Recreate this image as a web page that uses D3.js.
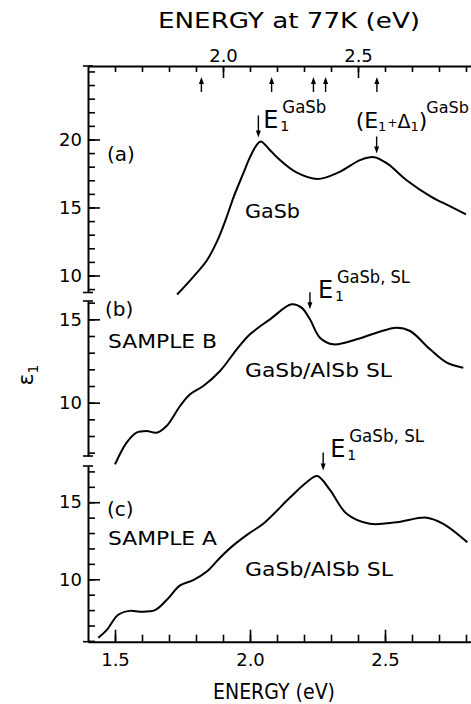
<!DOCTYPE html>
<html>
<head>
<meta charset="utf-8">
<script src="https://cdn.jsdelivr.net/npm/d3@7"></script>
<style>
body { margin: 0; background: #fff; }
text { font-family: "DejaVu Sans", sans-serif; fill: #000; }
</style>
</head>
<body>
<svg id="chart" width="471" height="704"></svg>
<script>
// photon energy (eV, room temperature) and eps1
var gasbE  = [1.73, 1.79, 1.84, 1.88, 1.91, 1.94, 1.975, 2.0, 2.025, 2.04, 2.07, 2.11, 2.17, 2.25, 2.33, 2.41, 2.46, 2.51, 2.58, 2.67, 2.74, 2.80];
var gasbEps = [8.6, 9.9, 11.1, 12.6, 14.1, 15.8, 17.5, 18.7, 19.6, 19.85, 19.3, 18.5, 17.6, 17.1, 17.6, 18.5, 18.7, 18.2, 17.0, 15.8, 15.1, 14.5];

var sampleBE  = [1.5, 1.543, 1.58, 1.617, 1.654, 1.691, 1.741, 1.778, 1.827, 1.889, 1.951, 2.0, 2.074, 2.154, 2.191, 2.222, 2.259, 2.309, 2.395, 2.469, 2.543, 2.593, 2.667, 2.729, 2.79];
var sampleBEps = [6.3, 7.6, 8.2, 8.3, 8.2, 8.6, 9.8, 10.5, 11.0, 11.9, 13.2, 14.1, 15.0, 15.9, 15.7, 15.0, 13.9, 13.5, 13.8, 14.2, 14.5, 14.3, 13.2, 12.4, 12.1];

var sampleAE  = [1.438, 1.469, 1.512, 1.556, 1.593, 1.648, 1.691, 1.741, 1.79, 1.84, 1.889, 1.938, 1.994, 2.049, 2.148, 2.21, 2.249, 2.296, 2.358, 2.444, 2.543, 2.654, 2.716, 2.805];
var sampleAEps = [6.2, 6.7, 7.7, 7.95, 7.9, 8.0, 8.65, 9.6, 9.95, 10.5, 11.4, 12.2, 12.95, 13.6, 15.3, 16.3, 16.7, 15.8, 14.25, 13.6, 13.7, 14.0, 13.6, 12.4];

// tick labels
var bottomTicks = [1.5, 2.0, 2.5];
var topTicks77 = [2.0, 2.5];
var majorA = [10, 15, 20];
var majorB = [10, 15];
var majorC = [10, 15];

// top axis marker arrows (77K energies)
var markers77 = [1.92, 2.18, 2.335, 2.38, 2.57];
var shift77 = 0.1;

// critical point arrows: energy and eps1 at the arrow tip
var cpPanel = ["a", "a", "b", "c"];
var cpE = [2.031, 2.469, 2.222, 2.271];
var cpEps = [20.15, 18.97, 15.6, 17.05];

var svg = d3.select("#chart");

var axisX = 88, bottomY = 641.7, topY = 66;

var x = d3.scaleLinear().domain([1.4, 2.82]).range([axisX, 471.4]);
var x77 = d3.scaleLinear().domain([1.4 + shift77, 2.82 + shift77]).range([axisX, 471.4]);

var panels = {
  a: d3.scaleLinear().domain([8.75, 25.4]).range([292.5, topY]),
  b: d3.scaleLinear().domain([6.8, 16.1]).range([456, 301]),
  c: d3.scaleLinear().domain([5.95, 17.35]).range([bottomY, 466])
};
var majors = {a: majorA, b: majorB, c: majorC};

// bottom axis
var minorX = d3.range(15, 29).map(function(d) { return d / 10; });
svg.append("g")
    .attr("transform", "translate(0," + bottomY + ")")
    .call(d3.axisBottom(x).tickValues(minorX).tickSize(-7).tickSizeOuter(0).tickFormat(""))
    .call(function(g) { g.select(".domain").attr("stroke-width", 2); });
svg.append("g")
    .attr("transform", "translate(0," + bottomY + ")")
    .call(d3.axisBottom(x).tickValues(bottomTicks).tickSize(-12).tickSizeOuter(0)
        .tickPadding(12).tickFormat(d3.format(".1f")))
    .call(function(g) { g.select(".domain").remove(); })
    .selectAll("text").attr("font-size", 18).attr("font-family", "DejaVu Sans");

// top axis
var minor77 = d3.range(16, 30).map(function(d) { return d / 10; });
svg.append("g")
    .attr("transform", "translate(0," + topY + ")")
    .call(d3.axisTop(x77).tickValues(minor77).tickSize(-6).tickSizeOuter(0).tickFormat(""))
    .call(function(g) { g.select(".domain").attr("stroke-width", 2); });
svg.append("g")
    .attr("transform", "translate(0," + topY + ")")
    .call(d3.axisTop(x77).tickValues(topTicks77).tickSize(-12).tickSizeOuter(0)
        .tickPadding(4).tickFormat(d3.format(".1f")))
    .call(function(g) { g.select(".domain").remove(); })
    .selectAll("text").attr("font-size", 18).attr("font-family", "DejaVu Sans");

// left axes, one segment per panel
Object.keys(panels).forEach(function(k) {
  var y = panels[k];
  var dom = y.domain();
  var minor = d3.range(Math.ceil(dom[0]), Math.floor(dom[1]) + 1);
  svg.append("g")
      .attr("transform", "translate(" + axisX + ",0)")
      .call(d3.axisLeft(y).tickValues(minor).tickSize(-7).tickSizeOuter(0).tickFormat(""))
      .call(function(g) { g.select(".domain").attr("stroke-width", 2); });
  svg.append("g")
      .attr("transform", "translate(" + axisX + ",0)")
      .call(d3.axisLeft(y).tickValues(majors[k]).tickSize(-12).tickSizeOuter(0).tickPadding(6))
      .call(function(g) { g.select(".domain").remove(); })
      .selectAll("text").attr("font-size", 18).attr("font-family", "DejaVu Sans");
  // break marks at the ends of each segment
  y.range().forEach(function(py) {
    svg.append("line")
        .attr("x1", axisX - 5).attr("x2", axisX + 5)
        .attr("y1", py).attr("y2", py)
        .attr("stroke", "#000").attr("stroke-width", 1.6);
  });
});
svg.selectAll(".tick line").attr("stroke-width", 1.6);
svg.selectAll(".tick text").attr("fill", "#000");

// curves
var series = [
  {panel: "a", e: gasbE, v: gasbEps},
  {panel: "b", e: sampleBE, v: sampleBEps},
  {panel: "c", e: sampleAE, v: sampleAEps}
];
series.forEach(function(s) {
  var y = panels[s.panel];
  var line = d3.line()
      .x(function(d, i) { return x(s.e[i]); })
      .y(function(d) { return y(d); })
      .curve(d3.curveCatmullRom.alpha(0.5));
  svg.append("path")
      .datum(s.v)
      .attr("d", line)
      .attr("fill", "none")
      .attr("stroke", "#000")
      .attr("stroke-width", 2);
});

// up arrows under the top axis
markers77.forEach(function(m) {
  var px = x77(m);
  svg.append("line").attr("x1", px).attr("x2", px)
      .attr("y1", topY + 14).attr("y2", topY + 26)
      .attr("stroke", "#000").attr("stroke-width", 1.4);
  svg.append("path")
      .attr("d", "M" + (px - 2.5) + "," + (topY + 18) + "L" + px + "," + (topY + 11) + "L" + (px + 2.5) + "," + (topY + 18) + "Z")
      .attr("fill", "#000");
});

// down arrows at the critical points
var cpLen = [22, 17, 17, 18];
cpE.forEach(function(e, i) {
  var px = x(e), py = panels[cpPanel[i]](cpEps[i]);
  svg.append("line").attr("x1", px).attr("x2", px)
      .attr("y1", py - cpLen[i]).attr("y2", py - 4)
      .attr("stroke", "#000").attr("stroke-width", 1.4);
  svg.append("path")
      .attr("d", "M" + (px - 2.5) + "," + (py - 7) + "L" + px + "," + py + "L" + (px + 2.5) + "," + (py - 7) + "Z")
      .attr("fill", "#000");
});

function label(tx, ty, str, size, anchor, len) {
  var t = svg.append("text")
      .attr("x", tx).attr("y", ty)
      .attr("font-size", size)
      .attr("text-anchor", anchor || "start")
      .text(str);
  if (len) t.attr("textLength", len).attr("lengthAdjust", "spacingAndGlyphs");
  return t;
}

// E1 labels: big E, subscript 1, superscript material
function cpLabel(px, py, sup, supLen) {
  label(px, py, "E", 24);
  label(px + 17, py + 3, "1", 14);
  label(px + 19, py - 15, sup, 18, "start", supLen);
}
cpLabel(x(cpE[0]) + 5, 128, "GaSb", 44);
cpLabel(x(cpE[2]) + 8, 298, "GaSb, SL", 73);
cpLabel(x(cpE[3]) + 7, 457, "GaSb, SL", 75);

// (E1 + Delta1)^GaSb as one text with tspans
var dx0 = x(cpE[1]) - 21;
var spin = svg.append("text").attr("x", dx0).attr("y", 128).attr("font-size", 22);
spin.append("tspan").text("(E");
spin.append("tspan").attr("font-size", 13).attr("dy", 3).text("1");
spin.append("tspan").attr("font-size", 12).attr("dy", -4).attr("dx", 1).text("+");
spin.append("tspan").attr("font-size", 19).attr("dy", 1).text("\u0394");
spin.append("tspan").attr("font-size", 13).attr("dy", 3).text("1");
spin.append("tspan").attr("dy", -3).text(")");
spin.append("tspan").attr("font-size", 16).attr("dy", -15).attr("dx", -1).text("GaSb");

// panel labels
label(107, 161, "(a)", 20);
label(105, 316, "(b)", 20);
label(108, 348, "SAMPLE B", 20, "start", 109);
label(107, 516, "(c)", 20);
label(108, 545, "SAMPLE A", 20, "start", 109);
label(245, 218, "GaSb", 20, "start", 55);
label(245, 377, "GaSb/AlSb SL", 20, "start", 147);
label(245, 576, "GaSb/AlSb SL", 20, "start", 148);

// axis titles
label(158, 28, "ENERGY at 77K (eV)", 21, "start", 262);
label(213, 699, "ENERGY (eV)", 21, "start", 122);

var yt = svg.append("text")
    .attr("transform", "translate(33,375) rotate(-90)")
    .attr("font-size", 22)
    .attr("text-anchor", "middle");
yt.append("tspan").text("\u03b5");
yt.append("tspan").attr("font-size", 14).attr("dy", 5).text("1");
</script>
</body>
</html>
